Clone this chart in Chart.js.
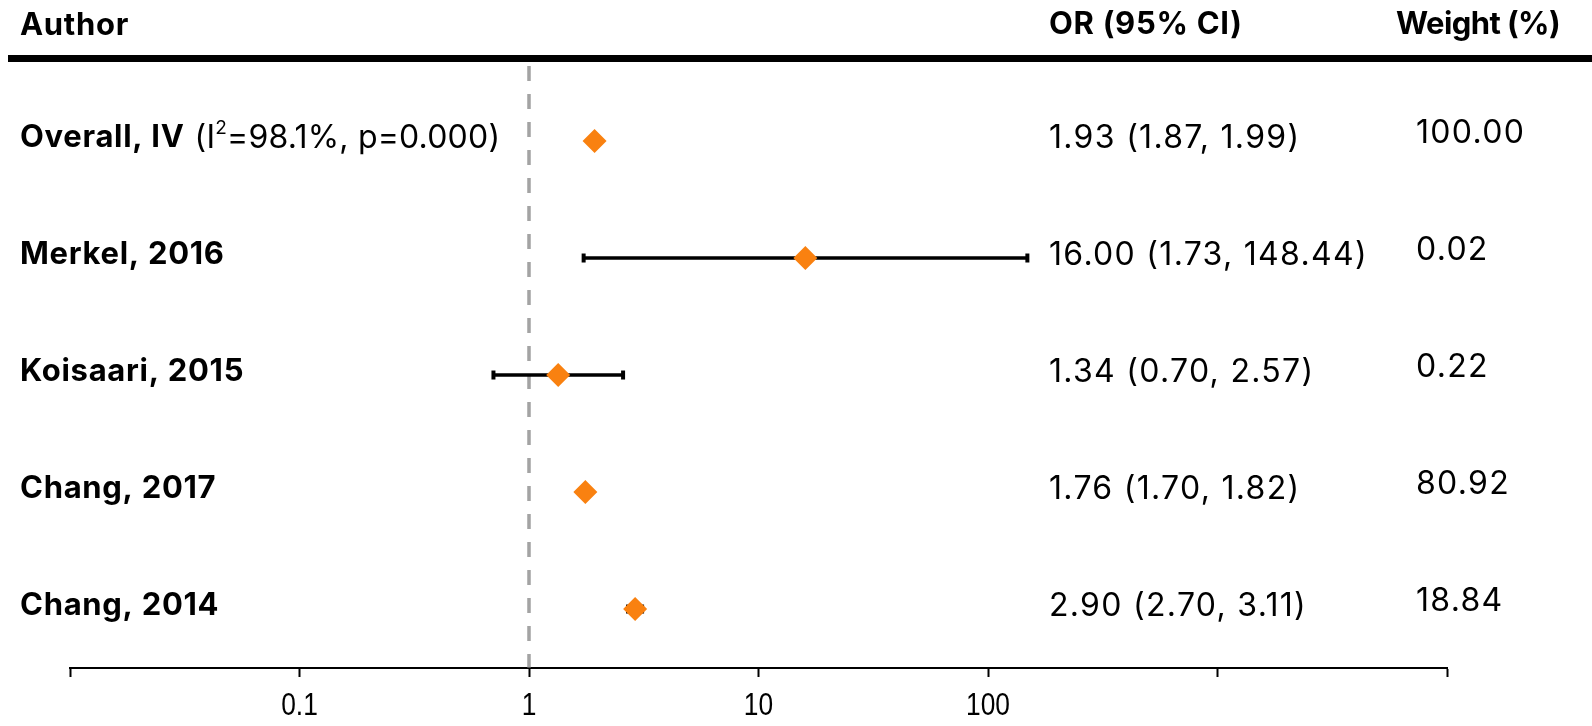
<!DOCTYPE html>
<html>
<head>
<meta charset="utf-8">
<title>Forest plot</title>
<script src="https://cdn.jsdelivr.net/npm/chart.js@4/dist/chart.umd.min.js"></script>
<style>
  html,body{margin:0;padding:0;background:#fff;}
  #forest{display:block;}
</style>
</head>
<body>
<canvas id="forest" width="1592" height="726"></canvas>
<script>
/* Forest plot — odds ratios per study, log x axis */

/* ── data ── */
var authors   = ['Overall, IV', 'Merkel, 2016', 'Koisaari, 2015', 'Chang, 2017', 'Chang, 2014'];
var orValues  = [1.93, 16.00, 1.34, 1.76, 2.90];
var ciLow     = [1.87, 1.73, 0.70, 1.70, 2.70];
var ciHigh    = [1.99, 148.44, 2.57, 1.82, 3.11];
var weights   = ['100.00', '0.02', '0.22', '80.92', '18.84'];
var hetText   = ['(I', '2', '=98.1%, p=0.000)'];
var axisTicks = [0.01, 0.1, 1, 10, 100, 1000, 10000];
var tickLabels = ['0.1', '1', '10', '100'];

var ORANGE = '#F98110';
var FONT = 'Inter, "Open Sans", sans-serif';
var TICK_FONT = '31px "Liberation Sans", Arial, sans-serif';

function fmt(v){ return v.toFixed(2); }

/* ── datasets ── */
var datasets = [];

// reference line at OR = 1
datasets.push({
  data: [{x:1, y:-0.64}, {x:1, y:4.5}],
  borderColor: '#A3A3A3', borderWidth: 3.5, borderDash: [15, 13],
  pointRadius: 0, order: 3
});

// confidence intervals (overall shown as diamond only)
authors.forEach(function(a, i){
  if(i === 0) return;
  datasets.push({
    data: [{x:ciLow[i], y:i}, {x:ciHigh[i], y:i}],
    borderColor: '#000', borderWidth: 3.5,
    pointStyle: 'line', rotation: 90, pointRadius: 4.5,
    pointBorderWidth: 4, pointBorderColor: '#000',
    order: 2
  });
});

// point estimates
datasets.push({
  data: orValues.map(function(v, i){ return {x:v, y:i}; }),
  showLine: false,
  pointStyle: 'rectRot', pointRadius: 12,
  backgroundColor: ORANGE, pointBorderWidth: 0, borderColor: ORANGE,
  order: 1
});

/* ── text columns + axis labels drawn beside the plot ── */
var textPlugin = {
  id: 'forestText',
  afterDraw: function(chart){
    var ctx = chart.ctx, ys = chart.scales.y, xs = chart.scales.x;
    ctx.save();
    ctx.fillStyle = '#000';
    ctx.textBaseline = 'middle';
    ctx.textAlign = 'left';

    // headers
    ctx.font = 'bold 31px ' + FONT;
    ctx.letterSpacing = '0.7px';
    ctx.fillText('Author', 20, 26);
    ctx.fillText('OR (95% CI)', 1049, 25);
    ctx.textAlign = 'right';
    ctx.letterSpacing = '-0.6px';
    ctx.fillText('Weight (%)', 1560, 25);
    ctx.textAlign = 'left';
    ctx.fillRect(8, 55, 1584, 7);

    authors.forEach(function(a, i){
      var y = ys.getPixelForValue(i) - 3;
      ctx.font = 'bold 31px ' + FONT;
      ctx.letterSpacing = '0.7px';
      ctx.fillText(a, 20, y);
      var x = 20 + ctx.measureText(a).width + 10;
      ctx.font = '32px ' + FONT;
      if(i === 0){
        ctx.letterSpacing = '0.2px';
        ctx.fillText(hetText[0], x, y);
        x += ctx.measureText(hetText[0]).width;
        ctx.font = '19px ' + FONT;
        ctx.fillText(hetText[1], x, y - 10);
        x += ctx.measureText(hetText[1]).width;
        ctx.font = '32px ' + FONT;
        ctx.fillText(hetText[2], x, y);
      }
      ctx.letterSpacing = '1.3px';
      ctx.fillText(fmt(orValues[i]) + ' (' + fmt(ciLow[i]) + ', ' + fmt(ciHigh[i]) + ')', 1049, y);
      ctx.fillText(weights[i], 1416, y - 5);
    });

    // x tick labels (narrow face), placed through the log scale
    ctx.letterSpacing = '0px';
    ctx.font = TICK_FONT;
    ctx.textAlign = 'center';
    tickLabels.forEach(function(t){
      var px = xs.getPixelForValue(Number(t));
      ctx.save();
      ctx.translate(px, xs.top + 38);
      ctx.scale(0.85, 1);
      ctx.fillText(t, 0, 0);
      ctx.restore();
    });
    ctx.restore();
  }
};

new Chart(document.getElementById('forest'), {
  type: 'line',
  data: {datasets: datasets},
  options: {
    responsive: false,
    animation: false,
    devicePixelRatio: 1,
    layout: {padding: {left: 70, right: 145, top: 66, bottom: 0}},
    plugins: {legend: {display: false}, tooltip: {enabled: false}},
    scales: {
      x: {
        type: 'logarithmic', min: 0.01, max: 10000,
        afterBuildTicks: function(scale){
          scale.ticks = axisTicks.map(function(v){ return {value: v}; });
        },
        afterFit: function(scale){ scale.height = 58; },
        border: {display: true, color: '#000', width: 2},
        grid: {display: true, drawOnChartArea: false, tickLength: 9, tickColor: '#000', tickWidth: 2},
        ticks: {
          padding: 15, maxRotation: 0, autoSkip: false,
          callback: function(){ return ''; }
        }
      },
      y: {
        type: 'linear', reverse: true, min: -0.641, max: 4.504, display: false
      }
    }
  },
  plugins: [textPlugin]
});
</script>
</body>
</html>
